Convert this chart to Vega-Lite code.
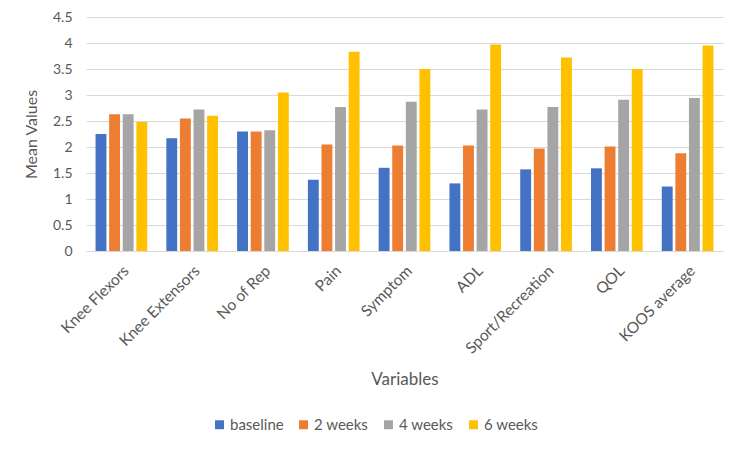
{
  "$schema": "https://vega.github.io/schema/vega-lite/v6.json",
  "width": 637,
  "height": 234,
  "autosize": {"type": "none"},
  "padding": {"left": 86, "top": 17, "right": 27, "bottom": 204},
  "background": "white",
  "config": {
    "view": {"stroke": null},
    "font": "Lato",
    "axis": {"labelColor": "#595959", "titleColor": "#595959", "labelFont": "Lato", "titleFont": "Lato", "titleFontWeight": "normal"},
    "legend": {"labelColor": "#595959", "labelFont": "Lato"}
  },
  "data": {
    "values": [
      {"variable": "Knee Flexors", "time": "baseline", "value": 2.25},
      {"variable": "Knee Flexors", "time": "2 weeks", "value": 2.63},
      {"variable": "Knee Flexors", "time": "4 weeks", "value": 2.63},
      {"variable": "Knee Flexors", "time": "6 weeks", "value": 2.48},
      {"variable": "Knee Extensors", "time": "baseline", "value": 2.17},
      {"variable": "Knee Extensors", "time": "2 weeks", "value": 2.55},
      {"variable": "Knee Extensors", "time": "4 weeks", "value": 2.72},
      {"variable": "Knee Extensors", "time": "6 weeks", "value": 2.6},
      {"variable": "No of Rep", "time": "baseline", "value": 2.3},
      {"variable": "No of Rep", "time": "2 weeks", "value": 2.3},
      {"variable": "No of Rep", "time": "4 weeks", "value": 2.32},
      {"variable": "No of Rep", "time": "6 weeks", "value": 3.05},
      {"variable": "Pain", "time": "baseline", "value": 1.37},
      {"variable": "Pain", "time": "2 weeks", "value": 2.05},
      {"variable": "Pain", "time": "4 weeks", "value": 2.77},
      {"variable": "Pain", "time": "6 weeks", "value": 3.83},
      {"variable": "Symptom", "time": "baseline", "value": 1.6},
      {"variable": "Symptom", "time": "2 weeks", "value": 2.03},
      {"variable": "Symptom", "time": "4 weeks", "value": 2.87},
      {"variable": "Symptom", "time": "6 weeks", "value": 3.5},
      {"variable": "ADL", "time": "baseline", "value": 1.3},
      {"variable": "ADL", "time": "2 weeks", "value": 2.03},
      {"variable": "ADL", "time": "4 weeks", "value": 2.72},
      {"variable": "ADL", "time": "6 weeks", "value": 3.97},
      {"variable": "Sport/Recreation", "time": "baseline", "value": 1.57},
      {"variable": "Sport/Recreation", "time": "2 weeks", "value": 1.97},
      {"variable": "Sport/Recreation", "time": "4 weeks", "value": 2.77},
      {"variable": "Sport/Recreation", "time": "6 weeks", "value": 3.72},
      {"variable": "QOL", "time": "baseline", "value": 1.59},
      {"variable": "QOL", "time": "2 weeks", "value": 2.01},
      {"variable": "QOL", "time": "4 weeks", "value": 2.91},
      {"variable": "QOL", "time": "6 weeks", "value": 3.5},
      {"variable": "KOOS average", "time": "baseline", "value": 1.24},
      {"variable": "KOOS average", "time": "2 weeks", "value": 1.88},
      {"variable": "KOOS average", "time": "4 weeks", "value": 2.94},
      {"variable": "KOOS average", "time": "6 weeks", "value": 3.95}
    ]
  },
  "mark": {"type": "bar"},
  "encoding": {
    "x": {
      "field": "variable", "type": "nominal", "sort": null,
      "scale": {"paddingInner": 0.27, "paddingOuter": 0.135},
      "axis": {"title": "Variables", "labelAngle": -45, "labelAlign": "right", "labelBaseline": "top", "labelFontSize": 15.5, "titleFontSize": 17, "titlePadding": 15, "ticks": false, "domainColor": "#D9D9D9", "labelPadding": 12}
    },
    "xOffset": {
      "field": "time", "type": "nominal", "sort": ["baseline", "2 weeks", "4 weeks", "6 weeks"],
      "scale": {"paddingInner": 0.2, "paddingOuter": 0}
    },
    "y": {
      "field": "value", "type": "quantitative",
      "scale": {"domain": [0, 4.5], "nice": false},
      "axis": {"title": "Mean Values", "values": [0, 0.5, 1, 1.5, 2, 2.5, 3, 3.5, 4, 4.5], "format": "~g", "labelFontSize": 14, "titleFontSize": 16, "domain": false, "ticks": false, "gridColor": "#D9D9D9", "labelPadding": 14, "titlePadding": 13}
    },
    "color": {
      "field": "time", "type": "nominal", "sort": ["baseline", "2 weeks", "4 weeks", "6 weeks"],
      "scale": {"domain": ["baseline", "2 weeks", "4 weeks", "6 weeks"], "range": ["#4472C4", "#ED7D31", "#A5A5A5", "#FFC000"]},
      "legend": {"title": null, "orient": "none", "direction": "horizontal", "legendX": 126, "legendY": 400, "symbolType": "square", "symbolSize": 80, "symbolStrokeWidth": 0, "labelFontSize": 15, "columnPadding": 12, "labelOffset": 3}
    }
  }
}
